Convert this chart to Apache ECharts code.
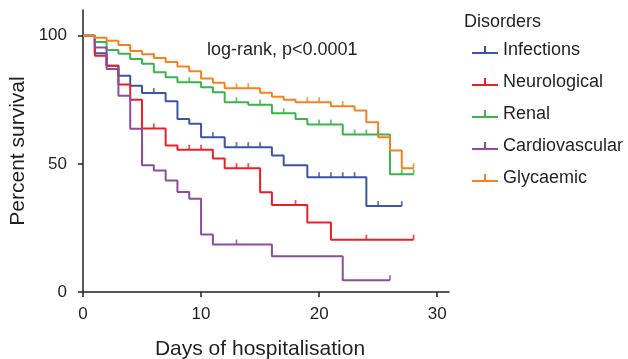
<!DOCTYPE html>
<html>
<head>
<meta charset="utf-8">
<script src="https://cdn.jsdelivr.net/npm/echarts@6/dist/echarts.min.js"></script>
<style>
html,body{margin:0;padding:0;background:#fff;}
#chart{width:628px;height:359px;}
</style>
</head>
<body>
<div id="chart"></div>
<script>
// ---- data (days, percent survival after each event) ----
const seriesNames = ['Infections', 'Neurological', 'Renal', 'Cardiovascular', 'Glycaemic'];

const infectionsDays   = [0, 1, 2, 3, 4, 5, 7, 8, 9, 10, 12, 16, 17, 19, 24, 27];
const infectionsSurv   = [100, 93.1, 88.3, 84.4, 80.5, 77.6, 74.4, 67.5, 65.6, 60.4, 56.5, 53.2, 49.4, 44.8, 33.5, 33.5];
const infectionsCens   = [6, 11, 13, 14, 15, 20, 21, 22, 23, 25, 27];

const neuroDays        = [0, 1, 2, 3, 4, 5, 7, 8, 11, 12, 15, 16, 19, 21, 28];
const neuroSurv        = [100, 92.2, 88.3, 80.9, 75.0, 63.8, 57.1, 55.5, 52.1, 48.3, 38.9, 33.9, 27.1, 20.4, 20.4];
const neuroCens        = [6, 9, 10, 13, 14, 18, 24, 28];

const renalDays        = [0, 1, 2, 3, 4, 5, 6, 7, 8, 10, 11, 12, 14, 16, 18, 19, 22, 26, 28];
const renalSurv        = [100, 97.5, 94.4, 92.9, 90.9, 89.0, 85.7, 83.8, 81.8, 79.9, 77.9, 74.0, 73.0, 69.7, 67.5, 65.3, 61.4, 45.9, 45.9];
const renalCens        = [9, 13, 15, 17, 20, 21, 23, 24, 25, 27, 28];

const cardioDays       = [0, 1, 2, 3, 4, 5, 6, 7, 8, 9, 10, 11, 16, 22, 26];
const cardioSurv       = [100, 95.4, 87.0, 76.6, 63.7, 49.4, 47.4, 43.5, 39.0, 36.4, 22.4, 18.5, 13.9, 4.6, 4.6];
const cardioCens       = [13, 26];

const glycDays         = [0, 1, 2, 3, 4, 5, 6, 7, 8, 9, 10, 11, 12, 15, 16, 17, 18, 21, 23, 24, 25, 26, 27, 28];
const glycSurv         = [100, 99.2, 98.0, 96.3, 94.0, 92.7, 91.3, 89.7, 88.0, 86.1, 83.3, 81.6, 79.5, 77.7, 76.2, 75.0, 74.0, 72.5, 70.8, 66.2, 60.4, 55.2, 48.3, 48.3];
const glycCens         = [6, 13, 14, 19, 20, 22, 28];

const xTicks = [0, 10, 20, 30];
const yTicks = [0, 50, 100];

const colors = ['#3a55a5', '#ed1f26', '#3ab44b', '#8d4c9f', '#f5821f'];

// ---- build ----
const groups = [
  [infectionsDays, infectionsSurv, infectionsCens],
  [neuroDays, neuroSurv, neuroCens],
  [renalDays, renalSurv, renalCens],
  [cardioDays, cardioSurv, cardioCens],
  [glycDays, glycSurv, glycCens]
];

function survAt(days, surv, t) {
  let v = surv[0];
  for (let i = 0; i < days.length; i++) { if (days[i] <= t) v = surv[i]; }
  return v;
}

const series = [];
groups.forEach((g, i) => {
  series.push({
    name: seriesNames[i],
    type: 'line',
    step: 'end',
    showSymbol: false,
    symbol: 'none',
    data: g[0].map((d, k) => [d, g[1][k]]),
    lineStyle: { color: colors[i], width: 2 },
    itemStyle: { color: colors[i] },
    emphasis: { disabled: true },
    z: 2
  });
  series.push({
    name: seriesNames[i] + ' censored',
    type: 'scatter',
    symbol: 'rect',
    symbolSize: [1.8, 5],
    symbolOffset: [0, -2.5],
    data: g[2].map(t => [t, survAt(g[0], g[1], t)]),
    itemStyle: { color: colors[i] },
    emphasis: { disabled: true },
    z: 3
  });
});

const font = 'Liberation Sans, Arial, Helvetica, sans-serif';
const legendIcon = 'path://M0,6 L26,6 L26,8 L0,8 Z M12,0 L14,0 L14,6 L12,6 Z';

const chart = echarts.init(document.getElementById('chart'), null, { renderer: 'canvas' });
chart.setOption({
  animation: false,
  backgroundColor: '#ffffff',
  grid: { left: 83, right: 179, top: 10, bottom: 67, containLabel: false },
  xAxis: {
    type: 'value',
    min: 0, max: 31,
    splitLine: { show: false },
    axisLine: { show: true, lineStyle: { color: '#231f20', width: 1.5 } },
    axisTick: { show: true, length: 5, customValues: xTicks, lineStyle: { color: '#231f20', width: 1.5 } },
    axisLabel: { customValues: xTicks, margin: 14, fontSize: 17, color: '#231f20', fontFamily: font }
  },
  yAxis: {
    type: 'value',
    min: 0, max: 110,
    splitLine: { show: false },
    axisLine: { show: true, lineStyle: { color: '#231f20', width: 1.5 } },
    axisTick: { show: true, length: 5, customValues: yTicks, lineStyle: { color: '#231f20', width: 1.5 } },
    axisLabel: { customValues: yTicks, margin: 16, fontSize: 17, color: '#231f20', fontFamily: font }
  },
  legend: {
    data: seriesNames,
    orient: 'vertical',
    left: 467,
    top: 35,
    icon: legendIcon,
    itemWidth: 26,
    itemHeight: 8,
    itemGap: 12,
    selectedMode: false,
    textStyle: { fontSize: 18, color: '#231f20', fontFamily: font, lineHeight: 20, padding: [0, 0, 0, 0] }
  },
  graphic: [
    { type: 'text', left: 464, top: 13, style: { text: 'Disorders', fontSize: 18, fill: '#231f20', fontFamily: font } },
    { type: 'text', left: 207, top: 41, style: { text: 'log-rank, p<0.0001', fontSize: 18, fill: '#231f20', fontFamily: font } },
    { type: 'text', x: 260, y: 349, style: { text: 'Days of hospitalisation', fontSize: 21, fill: '#231f20', fontFamily: font, align: 'center', verticalAlign: 'middle' } },
    { type: 'text', x: 18, y: 151, rotation: Math.PI / 2, style: { text: 'Percent survival', fontSize: 21, fill: '#231f20', fontFamily: font, align: 'center', verticalAlign: 'middle' } }
  ],
  series: series
});
</script>
</body>
</html>
